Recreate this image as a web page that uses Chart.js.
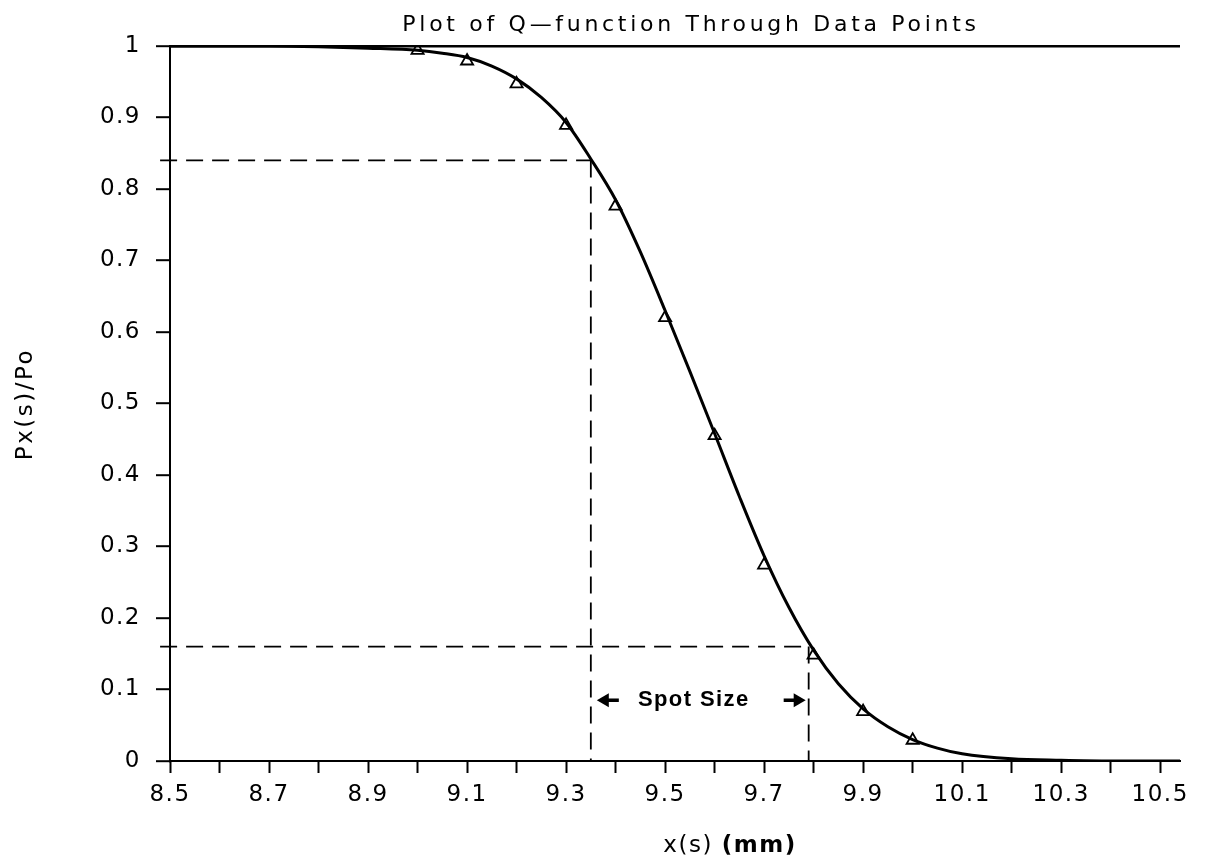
<!DOCTYPE html>
<html>
<head>
<meta charset="utf-8">
<script src="https://cdn.jsdelivr.net/npm/chart.js@4.4.1/dist/chart.umd.min.js"></script>
<style>
    html, body { margin: 0; padding: 0; background: #fff; }
</style>
</head>
<body>
<canvas id="qChart" width="1206" height="863"></canvas>
<script>
// Axis ticks
const xTickValues = [8.5, 8.6, 8.7, 8.8, 8.9, 9.0, 9.1, 9.2, 9.3, 9.4, 9.5, 9.6, 9.7, 9.8, 9.9, 10.0, 10.1, 10.2, 10.3, 10.4, 10.5];
const xTickLabels = ['8.5', '', '8.7', '', '8.9', '', '9.1', '', '9.3', '', '9.5', '', '9.7', '', '9.9', '', '10.1', '', '10.3', '', '10.5'];
const yTickValues = [0, 0.1, 0.2, 0.3, 0.4, 0.5, 0.6, 0.7, 0.8, 0.9, 1];
const yTickLabels = ['0', '0.1', '0.2', '0.3', '0.4', '0.5', '0.6', '0.7', '0.8', '0.9', '1'];
const xMin = 8.5;
const xMax = 10.54;

// Measured data points (triangles)
const pointX = [9.0, 9.1, 9.2, 9.3, 9.4, 9.5, 9.6, 9.7, 9.8, 9.9, 10.0];
const pointY = [0.994, 0.979, 0.947, 0.889, 0.776, 0.620, 0.455, 0.274, 0.148, 0.069, 0.029];

// Fitted Q-function curve
const curveX = [8.5, 8.6, 8.7, 8.8, 8.9, 9.0, 9.05, 9.1, 9.15, 9.2, 9.25, 9.3, 9.35, 9.4, 9.45, 9.5, 9.55, 9.6, 9.65, 9.7, 9.75, 9.8, 9.85, 9.9, 9.95, 10.0, 10.05, 10.1, 10.2, 10.3, 10.4, 10.54];
const curveY = [1, 1, 1, 0.999, 0.997, 0.994, 0.990, 0.984, 0.972, 0.954, 0.928, 0.893, 0.842, 0.785, 0.712, 0.630, 0.545, 0.458, 0.370, 0.287, 0.215, 0.155, 0.108, 0.073, 0.048, 0.030, 0.018, 0.010, 0.003, 0.001, 0, 0];

// Spot size construction lines
const dashStart = 8.48;
const spotLeft = 9.35;
const spotRight = 9.79;
const levelHigh = 0.84;
const levelLow = 0.16;
const spotLabelY = 0.085;

const titleText = 'Plot of Q\u2014function Through Data Points';

const toXY = (xs, ys) => xs.map((x, i) => ({ x: x, y: ys[i] }));

function dashed(points) {
    return {
        data: points,
        borderColor: '#000',
        borderWidth: 1.8,
        borderDash: [17, 9],
        pointRadius: 0,
        showLine: true,
        clip: false
    };
}

function arrow(ctx, tipX, tailX, yPos) {
    const dir = tipX < tailX ? 1 : -1;
    ctx.beginPath();
    ctx.moveTo(tipX, yPos);
    ctx.lineTo(tipX + dir * 12, yPos - 7);
    ctx.lineTo(tipX + dir * 12, yPos + 7);
    ctx.closePath();
    ctx.fill();
    ctx.lineWidth = 3.5;
    ctx.beginPath();
    ctx.moveTo(tipX + dir * 8, yPos);
    ctx.lineTo(tailX, yPos);
    ctx.stroke();
}

const textSpacing = {
    id: 'textSpacing',
    beforeLayout(chart) { chart.ctx.letterSpacing = '1.5px'; },
    beforeDraw(chart) { chart.ctx.letterSpacing = '1.5px'; }
};

const annotations = {
    id: 'annotations',
    afterDraw(chart) {
        const { ctx, chartArea } = chart;
        const xs = chart.scales.x;
        const ys = chart.scales.y;
        ctx.save();
        ctx.fillStyle = '#000';
        ctx.strokeStyle = '#000';

        // title
        ctx.font = '22px "DejaVu Sans"';
        ctx.letterSpacing = '3.7px';
        ctx.textAlign = 'center';
        ctx.textBaseline = 'middle';
        ctx.fillText(titleText, (chartArea.left + chartArea.right) / 2 + 16, 25);

        // y axis title
        ctx.font = '23px "DejaVu Sans"';
        ctx.letterSpacing = '2.5px';
        ctx.save();
        ctx.translate(26, 404);
        ctx.rotate(-Math.PI / 2);
        ctx.fillText('Px(s)/Po', 0, 0);
        ctx.restore();

        // x axis title, "(mm)" in bold
        const partA = 'x(s) ';
        const partB = '(mm)';
        ctx.letterSpacing = '1.5px';
        ctx.font = '23px "DejaVu Sans"';
        const wA = ctx.measureText(partA).width;
        ctx.font = 'bold 23px "DejaVu Sans"';
        const wB = ctx.measureText(partB).width;
        const start = 730 - (wA + wB) / 2;
        ctx.textAlign = 'left';
        ctx.font = '23px "DejaVu Sans"';
        ctx.fillText(partA, start, 846);
        ctx.font = 'bold 23px "DejaVu Sans"';
        ctx.fillText(partB, start + wA, 846);

        // spot size label with arrows
        const leftPx = xs.getPixelForValue(spotLeft);
        const rightPx = xs.getPixelForValue(spotRight);
        const yPx = ys.getPixelForValue(spotLabelY);
        ctx.font = 'bold 22px "Liberation Sans"';
        ctx.letterSpacing = '1.4px';
        ctx.textAlign = 'center';
        ctx.fillText('Spot Size', (leftPx + rightPx) / 2 - 6, yPx);
        arrow(ctx, leftPx + 6, leftPx + 28, yPx);
        arrow(ctx, rightPx - 3, rightPx - 25, yPx);
        ctx.restore();
    }
};

const ctx = document.getElementById('qChart').getContext('2d');

new Chart(ctx, {
    type: 'line',
    data: {
        datasets: [
            dashed([{ x: dashStart, y: levelHigh }, { x: spotLeft, y: levelHigh }]),
            dashed([{ x: spotLeft, y: levelHigh }, { x: spotLeft, y: 0 }]),
            dashed([{ x: dashStart, y: levelLow }, { x: spotRight, y: levelLow }]),
            dashed([{ x: spotRight, y: levelLow }, { x: spotRight, y: 0 }]),
            {
                data: toXY(curveX, curveY),
                borderColor: '#000',
                borderWidth: 3,
                cubicInterpolationMode: 'monotone',
                pointRadius: 0
            },
            {
                data: toXY(pointX, pointY),
                showLine: false,
                pointStyle: 'triangle',
                pointRadius: 7,
                pointBorderWidth: 1.8,
                pointBorderColor: '#000',
                pointBackgroundColor: 'rgba(255,255,255,0)'
            }
        ]
    },
    options: {
        responsive: false,
        animation: false,
        events: [],
        layout: { padding: { top: 46, right: 26, bottom: 0, left: 0 } },
        plugins: {
            legend: { display: false },
            tooltip: { enabled: false }
        },
        scales: {
            x: {
                type: 'linear',
                min: xMin,
                max: xMax,
                afterBuildTicks: axis => { axis.ticks = xTickValues.map(v => ({ value: v })); },
                afterFit: s => { s.height = 102; },
                ticks: {
                    autoSkip: false,
                    maxRotation: 0,
                    padding: 8,
                    color: '#000',
                    font: { family: 'DejaVu Sans', size: 23 },
                    callback: (v, i) => xTickLabels[i]
                },
                grid: { drawOnChartArea: false, tickLength: 12, tickColor: '#000', tickWidth: 2 },
                border: { color: '#000', width: 2 }
            },
            y: {
                min: 0,
                max: 1,
                afterBuildTicks: axis => { axis.ticks = yTickValues.map(v => ({ value: v })); },
                afterFit: s => { s.width = 170; },
                ticks: {
                    padding: 15,
                    color: '#000',
                    font: { family: 'DejaVu Sans', size: 23 },
                    callback: (v, i) => yTickLabels[i]
                },
                grid: {
                    color: c => (c.tick && c.tick.value === 1 ? '#000' : 'rgba(0,0,0,0)'),
                    lineWidth: 2.4,
                    tickLength: 14,
                    tickColor: '#000',
                    tickWidth: 2
                },
                border: { color: '#000', width: 2 }
            }
        }
    },
    plugins: [textSpacing, annotations]
});
</script>
</body>
</html>
